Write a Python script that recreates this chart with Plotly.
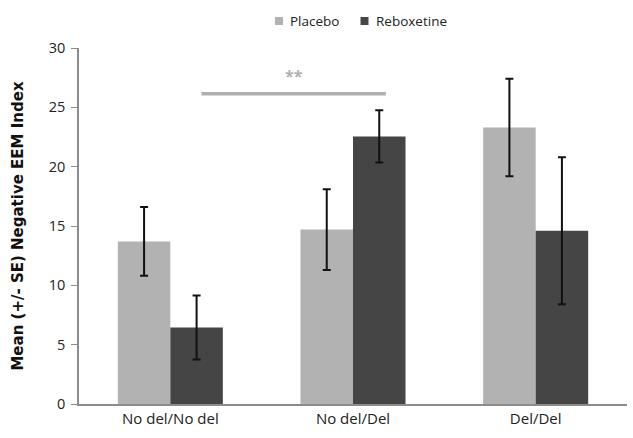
import plotly.graph_objects as go

categories = ["No del/No del", "No del/Del", "Del/Del"]
placebo = [13.7, 14.7, 23.3]
placebo_se = [2.9, 3.4, 4.1]
reboxetine = [6.45, 22.55, 14.6]
reboxetine_se = [2.7, 2.2, 6.2]
series_names = ["Placebo", "Reboxetine"]
series_colors = ["#b2b2b2", "#454545"]
sig_x = [0.17, 1.18]
sig_y = 26.15
sig_label = "**"

FONT = "Open Sans"

fig = go.Figure()
for name, vals, se, col in zip(series_names, [placebo, reboxetine], [placebo_se, reboxetine_se], series_colors):
    fig.add_trace(go.Bar(
        name=name, x=categories, y=vals,
        marker=dict(color=col, line=dict(width=0)),
        error_y=dict(type="data", array=se, color="#111111", thickness=2, width=4),
        showlegend=False,
    ))

# significance bracket
fig.add_shape(type="line", xref="x", yref="y", x0=sig_x[0], x1=sig_x[1], y0=sig_y, y1=sig_y,
              line=dict(color="#b0b0b0", width=3.5))
fig.add_annotation(x=(sig_x[0] + sig_x[1]) / 2, y=sig_y + 1.5, xref="x", yref="y",
                   text="<b>" + sig_label + "</b>", showarrow=False,
                   font=dict(family=FONT, size=16, color="#b0b0b0"))

# legend drawn at top (pixel-sized keys)
legend_keys_x = [0.365, 0.521]
legend_y = 1.0758
for name, col, kx in zip(series_names, series_colors, legend_keys_x):
    fig.add_shape(type="rect", xref="paper", yref="paper", xsizemode="pixel", ysizemode="pixel",
                  xanchor=kx, yanchor=legend_y, x0=-4, x1=4, y0=-4, y1=4,
                  fillcolor=col, line=dict(width=0))
    fig.add_annotation(x=kx + 0.017, y=legend_y, xref="paper", yref="paper", text=name,
                       showarrow=False, xanchor="left", yanchor="middle",
                       font=dict(family=FONT, size=13.5, color="#222222"))

fig.update_layout(
    width=633, height=438,
    margin=dict(l=79, r=6, t=48, b=34, autoexpand=False),
    paper_bgcolor="white", plot_bgcolor="white",
    barmode="group", bargap=0.425, bargroupgap=0,
    font=dict(family=FONT, size=13, color="#333333"),
    showlegend=False,
    xaxis=dict(type="category", showline=True, linecolor="#8c8c8c", linewidth=1.5,
               ticks="", showgrid=False, tickfont=dict(family=FONT, size=15, color="#222222"),
               range=[-0.5, 2.5], automargin=False),
    yaxis=dict(range=[0, 30], dtick=5, showline=True, linecolor="#8c8c8c", linewidth=1.5,
               ticks="outside", ticklen=6, tickcolor="#8c8c8c", showgrid=False,
               zeroline=False, tickfont=dict(family=FONT, size=14.5, color="#222222"),
               automargin=False, ticklabelstandoff=3,
               title=dict(text="<b>Mean (+/- SE) Negative EEM Index</b>",
                          font=dict(family="DejaVu Sans", size=15, color="#111111"), standoff=22)),
)

fig.write_html("out.html", config={"displayModeBar": False},
               post_script="document.body.style.margin='0';")
